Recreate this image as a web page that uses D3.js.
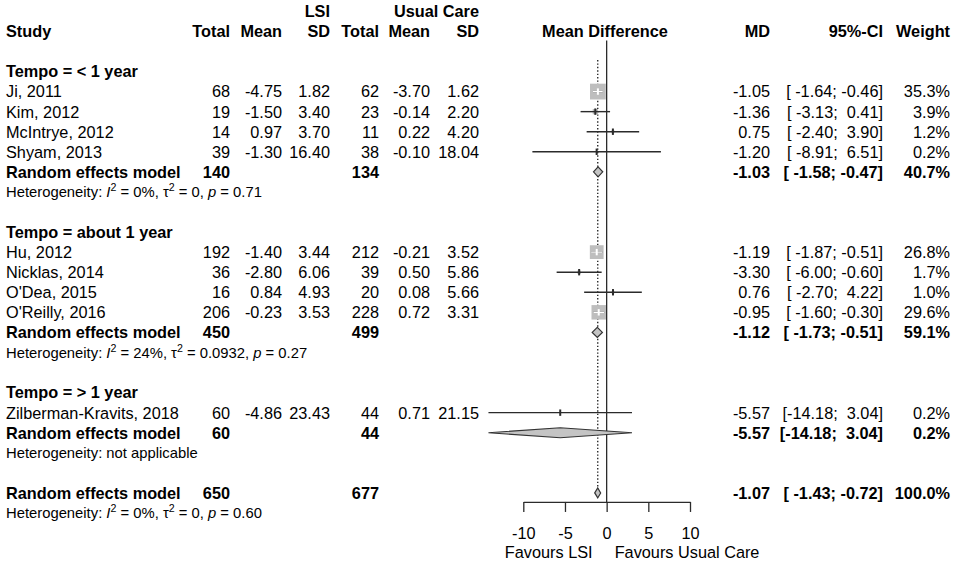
<!DOCTYPE html>
<html>
<head>
<meta charset="utf-8">
<script src="https://cdn.jsdelivr.net/npm/d3@7"></script>
<style>
  body { margin: 0; background: #fff; }
  svg text { font-family: "Liberation Sans", Arial, sans-serif; fill: #000; white-space: pre; }
</style>
</head>
<body>
<svg id="chart" width="957" height="566"></svg>
<script>
// Studies and their values
const studies = ["Ji, 2011", "Kim, 2012", "McIntrye, 2012", "Shyam, 2013",
  "Hu, 2012", "Nicklas, 2014", "O'Dea, 2015", "O'Reilly, 2016", "Zilberman-Kravits, 2018"];
const studyGroup = [0, 0, 0, 0, 1, 1, 1, 1, 2];
const lsiTotal = [68, 19, 14, 39, 192, 36, 16, 206, 60];
const lsiMean = [-4.75, -1.50, 0.97, -1.30, -1.40, -2.80, 0.84, -0.23, -4.86];
const lsiSD = [1.82, 3.40, 3.70, 16.40, 3.44, 6.06, 4.93, 3.53, 23.43];
const ucTotal = [62, 23, 11, 38, 212, 39, 20, 228, 44];
const ucMean = [-3.70, -0.14, 0.22, -0.10, -0.21, 0.50, 0.08, 0.72, 0.71];
const ucSD = [1.62, 2.20, 4.20, 18.04, 3.52, 5.86, 5.66, 3.31, 21.15];
const md = [-1.05, -1.36, 0.75, -1.20, -1.19, -3.30, 0.76, -0.95, -5.57];
const ciLow = [-1.64, -3.13, -2.40, -8.91, -1.87, -6.00, -2.70, -1.60, -14.18];
const ciHigh = [-0.46, 0.41, 3.90, 6.51, -0.51, -0.60, 4.22, -0.30, 3.04];
const weight = [35.3, 3.9, 1.2, 0.2, 26.8, 1.7, 1.0, 29.6, 0.2];

// Subgroup random effects models
const groupLabels = ["Tempo = < 1 year", "Tempo = about 1 year", "Tempo = > 1 year"];
const groupLsiTotal = [140, 450, 60];
const groupUcTotal = [134, 499, 44];
const groupMd = [-1.03, -1.12, -5.57];
const groupLow = [-1.58, -1.73, -14.18];
const groupHigh = [-0.47, -0.51, 3.04];
const groupWeight = [40.7, 59.1, 0.2];
const groupI2 = ["0%", "24%", null];
const groupTau2 = ["0", "0.0932", null];
const groupP = ["0.71", "0.27", null];

// Overall random effects model
const overallTotals = [650, 677];
const overallEffect = [-1.07, -1.43, -0.72];
const overallWeight = 100.0;
const overallHet = ["0%", "0", "0.60"];

const axisTicks = [-10, -5, 0, 5, 10];
const favourLabels = ["Favours LSI", "Favours Usual Care"];

// Layout
const FS = 16.3, FS_HET = 14.8;
const col = { study: 6, eTot: 230, eMean: 282, eSD: 330, cTot: 379, cMean: 430, cSD: 479,
  plotMid: 605, md: 770, ci: 883, w: 950 };
const x = d3.scaleLinear().domain([-10, 10]).range([523.3, 690]);
const y = d3.scaleLinear().domain([0, 25]).range([11.3, 513]);
const side = d3.scaleSqrt().domain([0, 35.3]).range([0, 15.8]);

// plain hyphen minus, as R prints it
const loc = d3.formatLocale({ decimal: ".", thousands: ",", grouping: [3], currency: ["", ""], minus: "-" });
const f2 = loc.format(".2f"), f1 = loc.format(".1f");

const svg = d3.select("#chart");
const ink = "#2b2b2b";

// Writes one text cell, baseline placed so caps are centred on the row
function cell(row, xpos, str, opts = {}) {
  const size = opts.size || FS;
  return svg.append("text")
    .attr("x", xpos)
    .attr("y", y(row) + size * 0.36)
    .attr("text-anchor", opts.anchor || "end")
    .attr("font-size", size)
    .attr("font-weight", opts.bold ? "bold" : null)
    .text(str);
}

const fmtCI = (lo, hi) => "[" + f2(lo).padStart(6) + "; " + f2(hi).padStart(5) + "]";

// Heterogeneity line with italic symbols and superscripts
function hetLine(row, i2, tau2, p) {
  const t = svg.append("text")
    .attr("x", col.study)
    .attr("y", y(row) + FS_HET * 0.36)
    .attr("font-size", FS_HET);
  if (i2 === null) {
    t.text("Heterogeneity: not applicable");
    return;
  }
  const parts = [
    ["Heterogeneity: ", null], ["I", "i"], ["2", "sup"], [" = " + i2 + ", τ", null],
    ["2", "sup"], [" = " + tau2 + ", ", null], ["p", "i"], [" = " + p, null]
  ];
  parts.forEach(([s, kind], k) => {
    const ts = t.append("tspan").text(s);
    if (kind === "i") ts.attr("font-style", "italic");
    if (kind === "sup") ts.attr("font-size", FS_HET * 0.72).attr("dy", -6);
    if (k > 0 && parts[k - 1][1] === "sup") ts.attr("dy", 6);
  });
}

// Reference lines
svg.append("line")
  .attr("x1", x(0)).attr("x2", x(0))
  .attr("y1", y(1.45)).attr("y2", y(24.45))
  .attr("stroke", ink).attr("stroke-width", 1.3);
svg.append("line")
  .attr("x1", x(overallEffect[0])).attr("x2", x(overallEffect[0]))
  .attr("y1", y(2.43)).attr("y2", y(24))
  .attr("stroke", ink).attr("stroke-width", 1.4)
  .attr("stroke-dasharray", "1.4 2");

// Header
cell(0, col.eSD, "LSI", { bold: true });
cell(0, col.cSD, "Usual Care", { bold: true });
[["Study", col.study, "start"], ["Total", col.eTot], ["Mean", col.eMean], ["SD", col.eSD],
 ["Total", col.cTot], ["Mean", col.cMean], ["SD", col.cSD], ["Mean Difference", col.plotMid, "middle"],
 ["MD", col.md], ["95%-CI", col.ci], ["Weight", col.w]]
  .forEach(([s, xp, a]) => cell(1, xp, s, { bold: true, anchor: a || "end" }));

// Square + CI marker for a single study
function studyMark(row, i) {
  const cy = y(row), s = side(weight[i]);
  const x0 = x(md[i]);
  svg.append("rect")
    .attr("x", x0 - s / 2).attr("y", cy - s / 2)
    .attr("width", s).attr("height", s)
    .attr("fill", "#bebebe");
  svg.append("line")
    .attr("x1", x(ciLow[i])).attr("x2", x(ciHigh[i]))
    .attr("y1", cy).attr("y2", cy)
    .attr("stroke", ink).attr("stroke-width", 1.4);
  const big = s > 8;
  if (big) {
    svg.append("line")
      .attr("x1", Math.max(x(ciLow[i]), x0 - s / 2)).attr("x2", Math.min(x(ciHigh[i]), x0 + s / 2))
      .attr("y1", cy).attr("y2", cy)
      .attr("stroke", "#fff").attr("stroke-width", 1.4);
  }
  svg.append("line")
    .attr("x1", x0).attr("x2", x0)
    .attr("y1", cy - 3.2).attr("y2", cy + 3.2)
    .attr("stroke", big ? "#fff" : ink).attr("stroke-width", 2);
}

function diamond(row, est, lo, hi) {
  const cy = y(row), h = 5;
  svg.append("path")
    .attr("d", `M${x(lo)},${cy}L${x(est)},${cy - h}L${x(hi)},${cy}L${x(est)},${cy + h}Z`)
    .attr("fill", "#c4c4c4")
    .attr("stroke", "#333").attr("stroke-width", 1.2);
}

// Body rows
let row = 3;
groupLabels.forEach((label, g) => {
  cell(row, col.study, label, { bold: true, anchor: "start" });
  row++;
  studies.forEach((name, i) => {
    if (studyGroup[i] !== g) return;
    cell(row, col.study, name, { anchor: "start" });
    cell(row, col.eTot, String(lsiTotal[i]));
    cell(row, col.eMean, f2(lsiMean[i]));
    cell(row, col.eSD, f2(lsiSD[i]));
    cell(row, col.cTot, String(ucTotal[i]));
    cell(row, col.cMean, f2(ucMean[i]));
    cell(row, col.cSD, f2(ucSD[i]));
    cell(row, col.md, f2(md[i]));
    cell(row, col.ci, fmtCI(ciLow[i], ciHigh[i]));
    cell(row, col.w, f1(weight[i]) + "%");
    studyMark(row, i);
    row++;
  });
  cell(row, col.study, "Random effects model", { bold: true, anchor: "start" });
  cell(row, col.eTot, String(groupLsiTotal[g]), { bold: true });
  cell(row, col.cTot, String(groupUcTotal[g]), { bold: true });
  cell(row, col.md, f2(groupMd[g]), { bold: true });
  cell(row, col.ci, fmtCI(groupLow[g], groupHigh[g]), { bold: true });
  cell(row, col.w, f1(groupWeight[g]) + "%", { bold: true });
  diamond(row, groupMd[g], groupLow[g], groupHigh[g]);
  row++;
  hetLine(row, groupI2[g], groupTau2[g], groupP[g]);
  row += 2;
});

// Overall model
cell(row, col.study, "Random effects model", { bold: true, anchor: "start" });
cell(row, col.eTot, String(overallTotals[0]), { bold: true });
cell(row, col.cTot, String(overallTotals[1]), { bold: true });
cell(row, col.md, f2(overallEffect[0]), { bold: true });
cell(row, col.ci, fmtCI(overallEffect[1], overallEffect[2]), { bold: true });
cell(row, col.w, f1(overallWeight) + "%", { bold: true });
diamond(row, ...overallEffect);
hetLine(row + 1, ...overallHet);

// Axis
const axis = svg.append("g")
  .attr("transform", `translate(0, ${y(24.45)})`)
  .call(d3.axisBottom(x).tickValues(axisTicks).tickSize(10).tickSizeOuter(0).tickPadding(15.5)
    .tickFormat(loc.format("d")));
axis.selectAll("path, line").attr("stroke", ink).attr("stroke-width", 1.3);
axis.selectAll("text").attr("font-size", FS).attr("font-family", "Liberation Sans, Arial, sans-serif")
  .attr("fill", "#000");

svg.append("text")
  .attr("x", x(0) - 14).attr("y", 558)
  .attr("text-anchor", "end").attr("font-size", FS)
  .text(favourLabels[0]);
svg.append("text")
  .attr("x", x(0) + 8).attr("y", 558)
  .attr("text-anchor", "start").attr("font-size", FS)
  .text(favourLabels[1]);
</script>
</body>
</html>
